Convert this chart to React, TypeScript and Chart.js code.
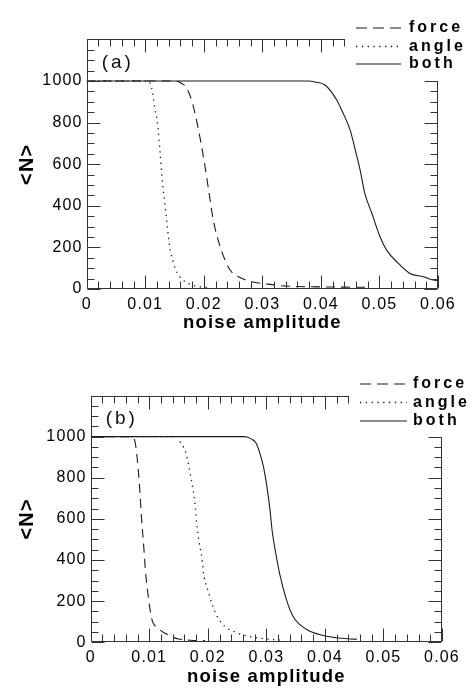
import React, { useEffect, useRef } from 'react';
import { Chart, registerables } from 'chart.js';

Chart.register(...registerables);

// ---------- data ----------
const seriesLabels = ['force', 'angle', 'both'];
const xTickLabels = ['0', '0.01', '0.02', '0.03', '0.04', '0.05', '0.06'];
const yTickLabels = ['0', '200', '400', '600', '800', '1000'];
const xTitle = 'noise amplitude';
const yTitle = '<N>';

// panel (a)
const forceAX = [0, 0.015, 0.0160, 0.0171, 0.0180, 0.0191, 0.0200, 0.0208, 0.0216, 0.0228, 0.0245, 0.0260, 0.0282, 0.0307, 0.0330, 0.0360, 0.0400, 0.0440, 0.0480];
const forceAY = [1000, 1000, 992, 965, 900, 764, 625, 480, 335, 203, 91, 58, 35, 24, 16, 12, 10, 9, 8];
const angleAX = [0, 0.0105, 0.0111, 0.01167, 0.01206, 0.01252, 0.01298, 0.01337, 0.01377, 0.0142, 0.0147, 0.0152, 0.0163, 0.0175, 0.0190, 0.0210];
const angleAY = [1000, 1000, 965, 861, 804, 660, 500, 404, 300, 196, 139, 91, 47, 25, 12, 6];
const bothAX = [0, 0.0380, 0.0390, 0.0407, 0.0427, 0.0438, 0.0450, 0.0458, 0.0467, 0.0475, 0.0487, 0.0501, 0.0512, 0.0532, 0.0552, 0.0575, 0.0592, 0.0600];
const bothAY = [1000, 1000, 995, 981, 909, 845, 764, 676, 572, 460, 364, 251, 188, 124, 75, 59, 43, 40];

// panel (b)
const forceBX = [0, 0.0070, 0.00757, 0.00813, 0.00842, 0.0087, 0.00898, 0.00939, 0.00984, 0.0104, 0.01155, 0.01326, 0.0150, 0.0170, 0.0195];
const forceBY = [1000, 1000, 975, 838, 724, 595, 497, 335, 222, 117, 68, 35, 16, 10, 8];
const angleBX = [0, 0.0150, 0.01526, 0.0161, 0.01667, 0.01725, 0.01781, 0.0181, 0.01855, 0.01896, 0.01935, 0.01992, 0.02084, 0.02162, 0.02294, 0.0247, 0.0265, 0.0284, 0.0303, 0.0323];
const angleBY = [1000, 1000, 975, 935, 870, 781, 676, 579, 481, 416, 319, 262, 176, 125, 76, 49, 32, 22, 15, 11];
const bothBX = [0, 0.0262, 0.0275, 0.0282, 0.0289, 0.0295, 0.0301, 0.0306, 0.0310, 0.0315, 0.0323, 0.0334, 0.0346, 0.0369, 0.0397, 0.0420, 0.0440, 0.0455];
const bothBY = [1000, 1000, 988, 970, 919, 854, 756, 650, 540, 450, 330, 210, 124, 62, 33, 22, 17, 15];

// axis ranges and tick intervals
const X_MAX = 0.06;
const Y_MAX = 1200;
const X_MAJOR = 0.01;
const Y_MAJOR = 200;
const X_MINOR_COUNT = 30; // minor every 0.002
const X_MINOR_PER_MAJOR = 5;
const Y_MINOR_COUNT = 24; // minor every 50
const Y_MINOR_PER_MAJOR = 4;

const FONT = "'Liberation Sans', Arial, Helvetica, sans-serif";
const INK = '#1a1a1a';

type Panel = {
  tag: string;
  height: number;
  padTop: number;
  padRight: number;
  yAxisWidth: number;
  xAxisHeight: number;
  xTitlePad: number;
  boxLeft: number;
  legendRows: number[];
  legendLine: [number, number];
  legendText: number;
  series: [number[], number[]][];
};

const panels: Panel[] = [
  {
    tag: '(a)',
    height: 340,
    padTop: 39.4,
    padRight: 34,
    yAxisWidth: 86.7,
    xAxisHeight: 51,
    xTitlePad: 5.6,
    boxLeft: 345,
    legendRows: [28, 46.5, 64],
    legendLine: [356, 401],
    legendText: 409,
    series: [[forceAX, forceAY], [angleAX, angleAY], [bothAX, bothAY]],
  },
  {
    tag: '(b)',
    height: 348,
    padTop: 55.5,
    padRight: 30,
    yAxisWidth: 90.7,
    xAxisHeight: 45.7,
    xTitlePad: 0,
    boxLeft: 349,
    legendRows: [44, 62.5, 81],
    legendLine: [360, 407],
    legendText: 413,
    series: [[forceBX, forceBY], [angleBX, angleBY], [bothBX, bothBY]],
  },
];

const plotDash = [[9, 6], [1.3, 4.5], []];
const legendDash = [[11, 6], [1.3, 4.5], []];
const lineWidths = [1.1, 1.3, 1.1];

function PanelChart({ p }: { p: Panel }) {
  const ref = useRef<HTMLCanvasElement | null>(null);
  useEffect(() => {
    const canvas = ref.current;
    if (!canvas) return;
    const decor = {
      id: 'decor',
      beforeDraw(chart: any) {
        (chart.ctx as any).letterSpacing = '1.2px';
      },
      afterDraw(chart: any) {
        const ctx = chart.ctx as CanvasRenderingContext2D;
        const a = chart.chartArea;
        const xs = chart.scales.x;
        const ys = chart.scales.y;
        ctx.save();
        (ctx as any).letterSpacing = '0px';
        ctx.strokeStyle = '#333';
        ctx.lineWidth = 1;
        ctx.setLineDash([]);
        const L = Math.round(a.left) + 0.5;
        const R = Math.round(a.right) - 0.5;
        const T = Math.round(a.top) + 0.5;
        const B = Math.round(a.bottom) - 0.5;
        ctx.beginPath();
        ctx.rect(L, T, R - L, B - T);
        ctx.stroke();
        ctx.beginPath();
        for (let i = 0; i <= X_MINOR_COUNT; i++) {
          const v = (i * X_MAX) / X_MINOR_COUNT;
          const px = Math.round(xs.getPixelForValue(v)) + 0.5;
          const len = i % X_MINOR_PER_MAJOR === 0 ? 13 : 7;
          ctx.moveTo(px, B);
          ctx.lineTo(px, B - len);
          ctx.moveTo(px, T);
          ctx.lineTo(px, T + len);
        }
        for (let i = 0; i <= Y_MINOR_COUNT; i++) {
          const v = (i * Y_MAX) / Y_MINOR_COUNT;
          const py = Math.round(ys.getPixelForValue(v)) + 0.5;
          const len = i % Y_MINOR_PER_MAJOR === 0 ? 13 : 7;
          ctx.moveTo(L, py);
          ctx.lineTo(L + len, py);
          ctx.moveTo(R, py);
          ctx.lineTo(R - len, py);
        }
        ctx.stroke();

        // legend area (white box over the upper-right corner of the frame)
        const y1000 = Math.round(ys.getPixelForValue(1000));
        ctx.fillStyle = '#fff';
        ctx.fillRect(p.boxLeft, 0, chart.width - p.boxLeft, y1000);

        chart.data.datasets.forEach((ds: any, i: number) => {
          const y = p.legendRows[i];
          ctx.strokeStyle = ds.borderColor;
          ctx.lineWidth = ds.borderWidth;
          ctx.setLineDash(legendDash[i]);
          ctx.beginPath();
          ctx.moveTo(p.legendLine[0], y);
          ctx.lineTo(p.legendLine[1], y);
          ctx.stroke();
          ctx.setLineDash([]);
          ctx.fillStyle = '#000';
          ctx.font = `bold 16px ${FONT}`;
          (ctx as any).letterSpacing = '3px';
          ctx.textBaseline = 'middle';
          ctx.textAlign = 'left';
          ctx.fillText(ds.label, p.legendText, y);
        });

        // panel tag
        ctx.fillStyle = '#111';
        ctx.font = `19px ${FONT}`;
        (ctx as any).letterSpacing = '3px';
        ctx.textBaseline = 'middle';
        ctx.textAlign = 'left';
        ctx.fillText(p.tag, a.left + 15, a.top + 23);
        ctx.restore();
      },
    };

    const datasets = p.series.map(([xs, ys], i) => ({
      label: seriesLabels[i],
      data: xs.map((x, k) => ({ x, y: ys[k] })),
      borderColor: INK,
      borderWidth: lineWidths[i],
      borderDash: plotDash[i],
      pointRadius: 0,
      fill: false,
      cubicInterpolationMode: 'monotone' as const,
    }));

    const chart = new Chart(canvas, {
      type: 'line',
      data: { datasets },
      options: {
        animation: false,
        responsive: false,
        maintainAspectRatio: false,
        events: [],
        layout: { padding: { left: 0, right: p.padRight, top: p.padTop, bottom: 0 } },
        plugins: {
          legend: { display: false },
          tooltip: { enabled: false },
        },
        scales: {
          x: {
            type: 'linear',
            min: 0,
            max: X_MAX,
            afterFit: (s: any) => {
              s.height = p.xAxisHeight;
            },
            grid: { display: false, drawTicks: false },
            border: { display: false },
            ticks: {
              stepSize: X_MAJOR,
              autoSkip: false,
              maxRotation: 0,
              padding: 6,
              color: '#000',
              font: { family: FONT, size: 16 },
              callback: (_v: any, i: number) => xTickLabels[i] ?? '',
            },
            title: {
              display: true,
              text: xTitle,
              color: '#000',
              font: { family: FONT, size: 18.5, weight: 'bold' },
              padding: { top: 0, bottom: p.xTitlePad },
            },
          },
          y: {
            type: 'linear',
            min: 0,
            max: Y_MAX,
            afterFit: (s: any) => {
              s.width = p.yAxisWidth;
            },
            grid: { display: false, drawTicks: false },
            border: { display: false },
            ticks: {
              stepSize: Y_MAJOR,
              autoSkip: false,
              padding: 4,
              color: '#000',
              font: { family: FONT, size: 16 },
              callback: (_v: any, i: number) => yTickLabels[i] ?? '',
            },
            title: {
              display: true,
              text: yTitle,
              color: '#000',
              font: { family: FONT, size: 20, weight: 'bold' },
              padding: { top: 15, bottom: 0 },
            },
          },
        },
      },
      plugins: [decor],
    } as any);
    return () => chart.destroy();
  }, [p]);
  return (
    <canvas
      ref={ref}
      width={472}
      height={p.height}
      style={{ display: 'block', width: 472, height: p.height }}
    />
  );
}

export default function App() {
  return (
    <div style={{ position: 'absolute', left: 0, top: 0, width: 472, height: 688, background: '#fff' }}>
      {panels.map((p) => (
        <PanelChart key={p.tag} p={p} />
      ))}
    </div>
  );
}
